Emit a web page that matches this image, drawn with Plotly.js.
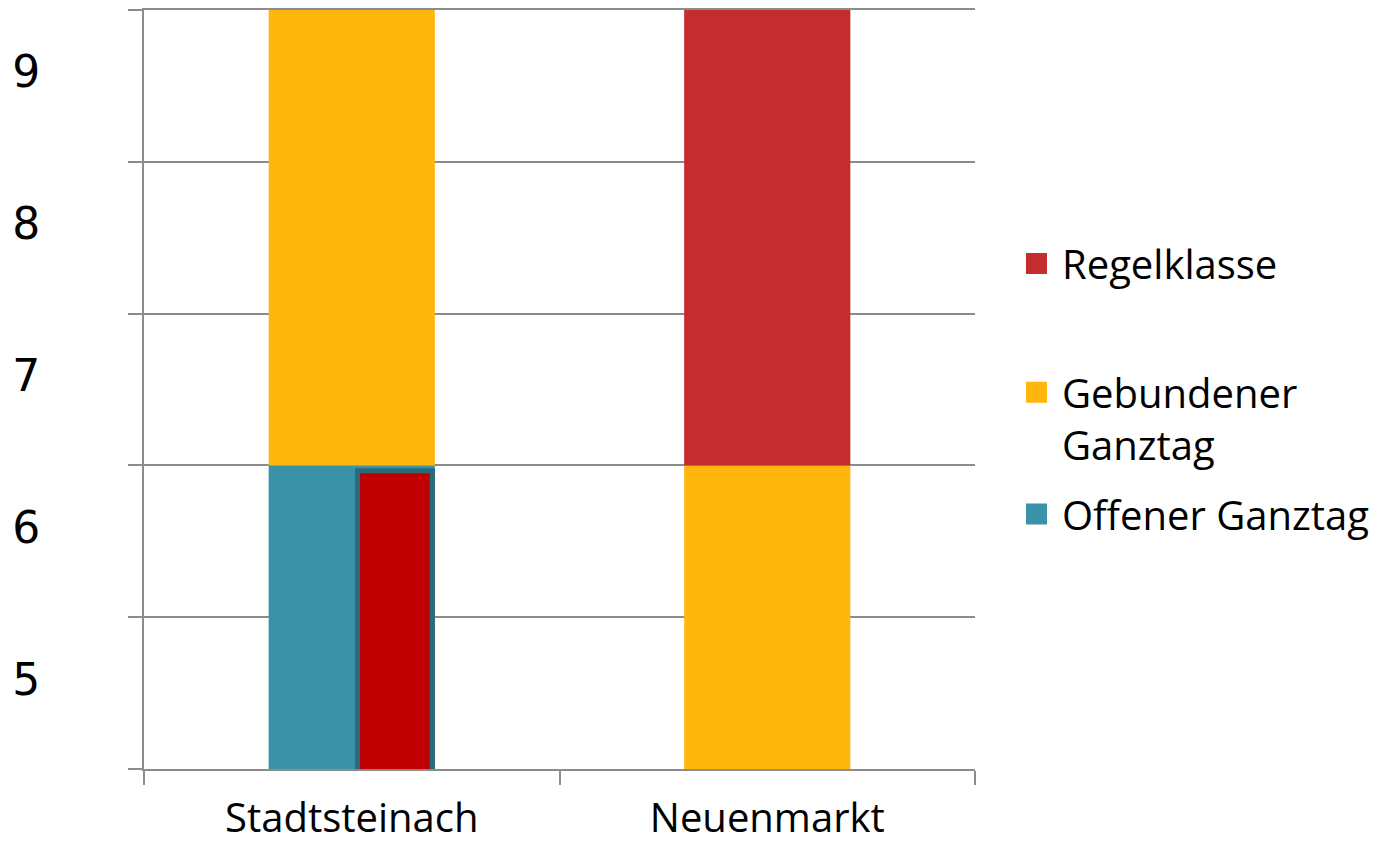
<!DOCTYPE html>
<html>
<head>
<meta charset="utf-8">
<script src="https://cdn.plot.ly/plotly-3.0.1.min.js"></script>
<style>html,body{margin:0;padding:0;background:#fff;}#chart{width:1396px;height:846px;}</style>
</head>
<body>
<div id="chart"></div>
<script>
// Schulen (Kategorien)
const categories = ['Stadtsteinach', 'Neuenmarkt'];
// Jahrgangsstufen von/bis je Schulform (null = nicht vorhanden)
const offenerVon = [5, null];
const offenerBis = [6, null];
const gebundenVon = [7, 5];
const gebundenBis = [9, 6];
const regelVon = [null, 7];
const regelBis = [null, 9];
// Markierter Bereich (roter Kasten)
const markKat = ['Stadtsteinach'];
const markVon = [5];
const markBis = [6];
// Achsenbeschriftung
const yTickVals = [5, 6, 7, 8, 9];
const yTickText = ['5', '6', '7', '8', '9'];
// Legende
const seriesNames = ['Regelklasse', 'Gebundener<br>Ganztag', 'Offener Ganztag'];

const colRegel = '#c42d30';
const colGeb = '#ffb70d';
const colOff = '#3a92a8';
const gridCol = '#8c8c8c';

function baseOf(von) { return von.map(v => v == null ? null : v - 0.5); }
function heightOf(von, bis) { return von.map((v, i) => v == null ? null : bis[i] - v + 1); }

const barW = 0.4;
const traces = [
  {type: 'bar', x: categories, y: heightOf(offenerVon, offenerBis), base: baseOf(offenerVon),
   width: barW, marker: {color: colOff, line: {width: 0}}, showlegend: false, hoverinfo: 'skip'},
  {type: 'bar', x: categories, y: heightOf(gebundenVon, gebundenBis), base: baseOf(gebundenVon),
   width: barW, marker: {color: colGeb, line: {width: 0}}, showlegend: false, hoverinfo: 'skip'},
  {type: 'bar', x: categories, y: heightOf(regelVon, regelBis), base: baseOf(regelVon),
   width: barW, marker: {color: colRegel, line: {width: 0}}, showlegend: false, hoverinfo: 'skip'},
  {type: 'bar', x: markKat, y: heightOf(markVon, markBis), base: baseOf(markVon).map(b => b - 0.035),
   width: 0.18, offset: 0.014, cliponaxis: false,
   marker: {color: '#c00000', line: {width: 5, color: '#2a6a7a'}},
   showlegend: false, hoverinfo: 'skip'},
  // Legendeneinträge
  {type: 'scatter', mode: 'markers', x: [null], y: [null], name: seriesNames[0], legend: 'legend',
   marker: {symbol: 'square', size: 16, color: colRegel, line: {width: 5, color: colRegel}}},
  {type: 'scatter', mode: 'markers', x: [null], y: [null], name: seriesNames[1], legend: 'legend2',
   marker: {symbol: 'square', size: 16, color: colGeb, line: {width: 5, color: colGeb}}},
  {type: 'scatter', mode: 'markers', x: [null], y: [null], name: seriesNames[2], legend: 'legend3',
   marker: {symbol: 'square', size: 16, color: colOff, line: {width: 5, color: colOff}}}
];

const legendBase = {
  xref: 'paper', yref: 'paper', x: 1.0433, xanchor: 'left', yanchor: 'middle',
  font: {family: 'Open Sans', size: 40, color: '#000'}, itemwidth: 41, valign: 'top',
  bgcolor: 'rgba(0,0,0,0)', borderwidth: 0
};

const layout = {
  width: 1396, height: 846,
  margin: {l: 144, r: 421, t: 10, b: 77, pad: 0},
  paper_bgcolor: '#fff', plot_bgcolor: '#fff',
  barmode: 'overlay',
  showlegend: true,
  legend: Object.assign({}, legendBase, {y: 0.666}),
  legend2: Object.assign({}, legendBase, {y: 0.462}),
  legend3: Object.assign({}, legendBase, {y: 0.336}),
  xaxis: {
    type: 'category', range: [-0.5, 1.5],
    showgrid: false, zeroline: false,
    showline: true, mirror: true, linecolor: gridCol, linewidth: 2,
    ticks: 'outside', tickson: 'boundaries', ticklen: 14, tickwidth: 2, tickcolor: gridCol,
    ticklabelstandoff: 13,
    tickfont: {family: 'Open Sans', size: 40, color: '#000'}
  },
  yaxis: {
    range: [4.5, 9.5], zeroline: false,
    showgrid: false,
    showline: true, linecolor: gridCol, linewidth: 2,
    tickmode: 'array', tickvals: yTickVals, ticktext: yTickText, ticks: '',
    ticklabelstandoff: 93, ticklabelshift: -14,
    tickfont: {family: 'DejaVu Sans', size: 44, color: '#000'},
    minor: {
      tickmode: 'array', tickvals: yTickVals.map(v => v - 0.5).concat([yTickVals[yTickVals.length - 1] + 0.5]),
      ticks: 'outside', ticklen: 14, tickwidth: 2, tickcolor: gridCol,
      showgrid: true, gridcolor: gridCol, gridwidth: 2
    }
  }
};

Plotly.newPlot('chart', traces, layout, {displayModeBar: false, staticPlot: true});
</script>
</body>
</html>
